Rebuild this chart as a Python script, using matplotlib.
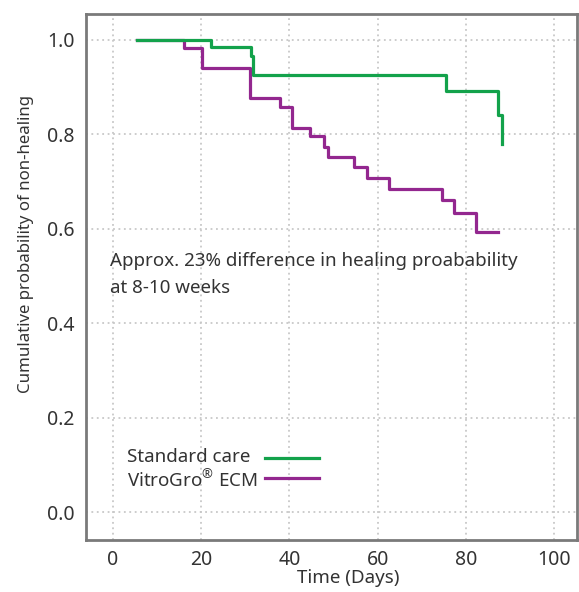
import matplotlib
matplotlib.use("Agg")
import matplotlib.pyplot as plt

plt.rcParams['font.family'] = ['Noto Sans', 'DejaVu Sans']
plt.rcParams['mathtext.fontset'] = 'custom'
plt.rcParams['mathtext.rm'] = 'Noto Sans'

# Kaplan-Meier style curves
care_days = [5.5, 22.3, 31.2, 31.8, 75.4, 87.3, 88.1]
care_prob = [1.0, 0.986, 0.966, 0.926, 0.891, 0.841, 0.780]

ecm_days = [5.5, 16.2, 20.1, 31.1, 37.9, 40.7, 44.7, 47.9, 48.7, 54.6, 57.5, 62.5, 74.5, 77.3, 82.4, 87.3]
ecm_prob = [1.0, 0.982, 0.941, 0.878, 0.858, 0.814, 0.797, 0.773, 0.753, 0.730, 0.708, 0.684, 0.662, 0.634, 0.593, 0.593]

x_ticks = [0, 20, 40, 60, 80, 100]
y_ticks = [0.0, 0.2, 0.4, 0.6, 0.8, 1.0]

green = '#13a24b'
purple = '#93278f'
txt = '#333333'

fig = plt.figure(figsize=(5.79, 5.92), dpi=100)
ax = fig.add_axes([0.1485, 0.0878, 0.8480, 0.8885])

l_ecm, = ax.step(ecm_days, ecm_prob, where='post', color=purple, lw=2.3, zorder=3)
l_care, = ax.step(care_days, care_prob, where='post', color=green, lw=2.3, zorder=4)

ax.set_xlim(-6.1, 105.2)
ax.set_ylim(-0.059, 1.055)
ax.set_xticks(x_ticks)
ax.set_yticks(y_ticks)
ax.set_yticklabels([f'{v:.1f}' for v in y_ticks])
ax.tick_params(length=0, labelsize=14, colors=txt)
ax.tick_params(axis='x', pad=7)
ax.tick_params(axis='y', pad=8)
ax.grid(True, color='#c8c8c8', linestyle=(0, (1, 2)), lw=1.3)

for s in ax.spines.values():
    s.set_color('#7a7a7a')
    s.set_linewidth(2)

ax.set_xlabel('Time (Days)', fontsize=13.5, color=txt)
ax.xaxis.set_label_coords(0.535, -0.056)
ax.set_ylabel('Cumulative probability of non-healing', fontsize=12.1, color=txt)
ax.yaxis.set_label_coords(-0.106, 0.562)

ax.text(-0.6, 0.503, 'Approx. 23% difference in healing proabability\nat 8-10 weeks',
        fontsize=13.5, color=txt, va='center', ha='left', linespacing=1.6)

# legend: labels left-aligned, line samples in a column to their right
labels = ['Standard care', 'VitroGro$^{\\mathrm{®}}$ ECM']
handles = [l_care, l_ecm]
leg1 = ax.legend(handles, labels, loc='center left', bbox_to_anchor=(0.083, 0.134),
                 frameon=False, handlelength=0, handletextpad=0, fontsize=13.5,
                 labelspacing=0.15, borderpad=0, borderaxespad=0)
for h in leg1.legend_handles:
    h.set_visible(False)
for t in leg1.get_texts():
    t.set_color(txt)
ax.add_artist(leg1)
ax.legend(handles, [' ', ' '], loc='center left', bbox_to_anchor=(0.364, 0.134),
          frameon=False, handlelength=2.9, handletextpad=0, fontsize=13.5,
          labelspacing=0.15, borderpad=0, borderaxespad=0)

fig.savefig('out.png', dpi=100)
